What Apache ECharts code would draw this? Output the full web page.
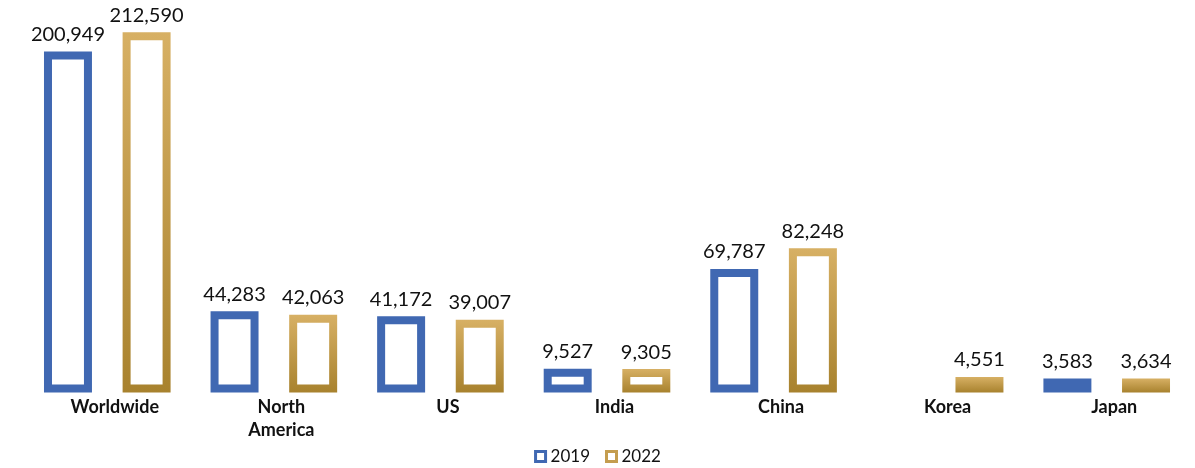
<!DOCTYPE html>
<html>
<head>
<meta charset="utf-8">
<script src="https://cdn.jsdelivr.net/npm/echarts@6/dist/echarts.min.js"></script>
<style>html,body{margin:0;background:#fff}#chart{width:1195px;height:468px}</style>
</head>
<body>
<div id="chart"></div>
<script>
// === Data ===
const categories = ['Worldwide', 'North\nAmerica', 'US', 'India', 'China', 'Korea', 'Japan'];
const values2019 = [200949, 44283, 41172, 9527, 69787, null, 3583];
const values2022 = [212590, 42063, 39007, 9305, 82248, 4551, 3634];

// === Palette ===
const blue = '#4068b2';
const goldSolid = '#c49d4f';
const gold = { type:'linear', x:0, y:0, x2:0, y2:1,
  colorStops:[{ offset:0, color:'#d7b064' }, { offset:1, color:'#a8822e' }] };
const font = 'Lato, "Open Sans", sans-serif';
const nf = new Intl.NumberFormat('en-US');

// hollow bar, stroke centred on the edge (like the original)
function barRenderer(side, stroke){
  return (params, api) => {
    const v = api.value(1);
    if (v == null || isNaN(v)) return null;
    const i = api.value(0);
    const base = api.coord([i, 0]);
    const top = api.coord([i, v]);
    const band = api.size([1, 0])[0];
    const w = band * 0.24;
    const cx = base[0] + side * band * 0.236;
    return {
      type:'rect',
      shape:{ x: cx - w / 2, y: top[1], width: w, height: base[1] - top[1] },
      style:{ fill:'#fff', stroke, lineWidth:8 },
      textContent:{ style:{ text: nf.format(v), fill:'#111', fontSize:20, fontFamily:font } },
      textConfig:{ position:'top', distance:7 }
    };
  };
}

const chart = echarts.init(document.getElementById('chart'));
chart.setOption({
  animation:false,
  grid:{ left:24, right:5, top:24, bottom:79.5, outerBoundsMode:'none' },
  legend:{
    top:443, left:'center', itemWidth:10, itemHeight:10, itemGap:15,
    textStyle:{ fontFamily:font, fontSize:17, color:'#111' },
    data:[
      { name:'2019', icon:'rect', itemStyle:{ color:'#fff', borderColor:blue, borderWidth:3 } },
      { name:'2022', icon:'rect', itemStyle:{ color:'#fff', borderColor:goldSolid, borderWidth:3 } }
    ]
  },
  xAxis:{
    type:'category', data:categories,
    axisLine:{ show:false }, axisTick:{ show:false },
    axisLabel:{ interval:0, fontFamily:font, fontSize:18, fontWeight:'bold', color:'#111',
      lineHeight:23, margin:7, padding:[0, 0, 0, 15] }
  },
  yAxis:{ type:'value', min:0, max:220000, show:false, splitLine:{ show:false } },
  series:[
    { name:'2019', type:'custom', renderItem: barRenderer(-1, blue), itemStyle:{ color:blue },
      encode:{ x:0, y:1 }, data: values2019.map((v, i) => [i, v]) },
    { name:'2022', type:'custom', renderItem: barRenderer(1, gold), itemStyle:{ color:goldSolid },
      encode:{ x:0, y:1 }, data: values2022.map((v, i) => [i, v]) }
  ]
});
</script>
</body>
</html>
